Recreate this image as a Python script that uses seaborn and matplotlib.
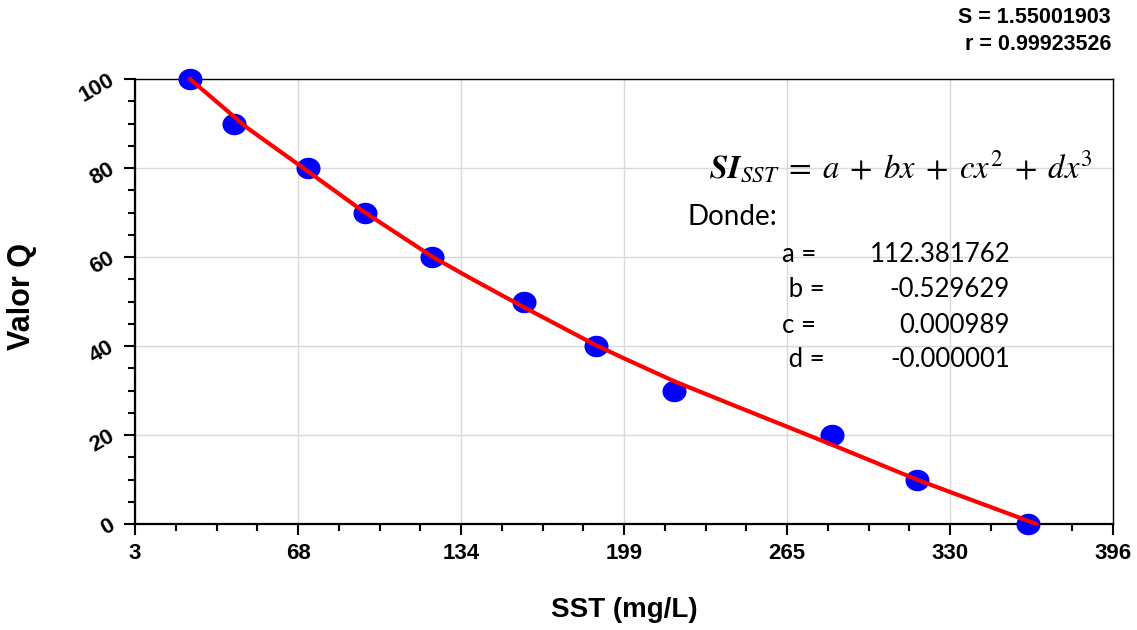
import numpy as np
import matplotlib
matplotlib.use("Agg")
import matplotlib.pyplot as plt
from matplotlib.path import Path
from matplotlib.ticker import AutoMinorLocator
import seaborn as sns
import pandas as pd

# measured points (SST mg/L vs Q value)
sst = [25.1, 42.9, 72.6, 95.4, 122.5, 159.3, 188.2, 219.7, 282.9, 317.1, 361.9]
valor_q = [100, 90, 80, 70, 60, 50, 40, 30, 20, 10, 0]

# fitted curve
fit_x = [25.1, 47.9, 72.6, 94.6, 122.7, 137.6, 159.0, 187.8, 199.2, 220.0,
         244.8, 262.2, 282.3, 317.1, 330.5, 365.3]
fit_y = [100.0, 89.1, 79.2, 70.3, 60.0, 55.3, 48.8, 40.3, 37.3, 32.0,
         26.4, 22.5, 18.0, 10.0, 7.2, 0.0]

xtick_vals = [3, 68.5, 134, 199.5, 265, 330.5, 396]
xtick_labels = ["3", "68", "134", "199", "265", "330", "396"]
ytick_vals = [0, 20, 40, 60, 80, 100]

coef_names = ["a =", " b =", "c =", " d ="]
coef_vals = ["112.381762", "-0.529629", "0.000989", "-0.000001"]
stats_lines = ["S = 1.55001903", "r = 0.99923526"]

sns.set_theme(style="ticks")
plt.rcParams['font.family'] = ['Liberation Sans', 'DejaVu Sans']
plt.rcParams['mathtext.fontset'] = 'stix'
plt.rcParams['text.color'] = 'black'
plt.rcParams['axes.labelcolor'] = 'black'
plt.rcParams['xtick.color'] = 'black'
plt.rcParams['ytick.color'] = 'black'

W, H = 1137, 630
def px(x, y):
    return x / W, 1 - y / H

fig = plt.figure(figsize=(W / 100, H / 100), dpi=100)
ax = fig.add_axes([135 / W, 1 - 524 / H, 978 / W, 445 / H])

# slightly wide ellipse marker
t = np.linspace(0, 2 * np.pi, 60)
ellipse = Path(np.column_stack([np.cos(t) * 1.12, np.sin(t)]), closed=True)

pts = pd.DataFrame({"sst": sst, "q": valor_q})
sns.scatterplot(data=pts, x="sst", y="q", marker=ellipse, s=300, color="#0000ff",
                linewidth=0, ax=ax, zorder=3, clip_on=False)
fit = pd.DataFrame({"x": fit_x, "y": fit_y})
sns.lineplot(data=fit, x="x", y="y", color="#ff0000", lw=3, sort=False, ax=ax,
             zorder=4, clip_on=False)

ax.set_xlim(3, 396)
ax.set_ylim(0, 100)
ax.set_xticks(xtick_vals)
ax.set_xticklabels(xtick_labels)
ax.set_yticks(ytick_vals)
ax.xaxis.set_minor_locator(AutoMinorLocator(4))
ax.yaxis.set_minor_locator(AutoMinorLocator(4))
ax.grid(True, which='major', color='#d9d9d9', lw=1.0)
ax.set_axisbelow(True)
ax.set_xlabel("")
ax.set_ylabel("")

ax.tick_params(which='major', length=8, width=1.5, color='black', labelsize=16,
               labelcolor='black')
ax.tick_params(which='minor', length=5, width=1.5, color='black')
ax.tick_params(axis='x', which='major', pad=6)
ax.tick_params(axis='y', which='major', pad=8)
for lab in ax.get_xticklabels() + ax.get_yticklabels():
    lab.set_fontweight('bold')
plt.setp(ax.get_yticklabels(), rotation=30, rotation_mode='anchor', ha='right', va='center')

for side in ['left', 'bottom']:
    ax.spines[side].set_linewidth(1.6)
for side in ['top', 'right']:
    ax.spines[side].set_linewidth(1.0)
    ax.spines[side].set_visible(True)
for s in ax.spines.values():
    s.set_color('black')

fig.text(*px(22, 297), "Valor Q", rotation=90, ha='center', va='center',
         fontsize=22, fontweight='bold')
fig.text(*px(624, 617), "SST (mg/L)", ha='center', va='baseline',
         fontsize=20, fontweight='bold')

fig.text(*px(1111, 23), stats_lines[0], ha='right', va='baseline', fontsize=15.5, fontweight='bold')
fig.text(*px(1111, 50), stats_lines[1], ha='right', va='baseline', fontsize=15.5, fontweight='bold')

fig.text(*px(1093, 178),
         r"$\mathbfit{SI}_{SST}\;=\;a\;+\;bx\;+\;cx^{2}\;+\;dx^{3}$",
         ha='right', va='baseline', fontsize=23.5)
fig.text(*px(688, 225), "Donde:", ha='left', va='baseline', fontsize=20, family='Lato')
row_y = [262, 297, 333, 367]
for name, val, yy in zip(coef_names, coef_vals, row_y):
    fig.text(*px(782, yy), name, ha='left', va='baseline', fontsize=18.5, family='Lato')
    fig.text(*px(1010, yy), val, ha='right', va='baseline', fontsize=18.5, family='Lato')

fig.savefig("out.png", dpi=100)
